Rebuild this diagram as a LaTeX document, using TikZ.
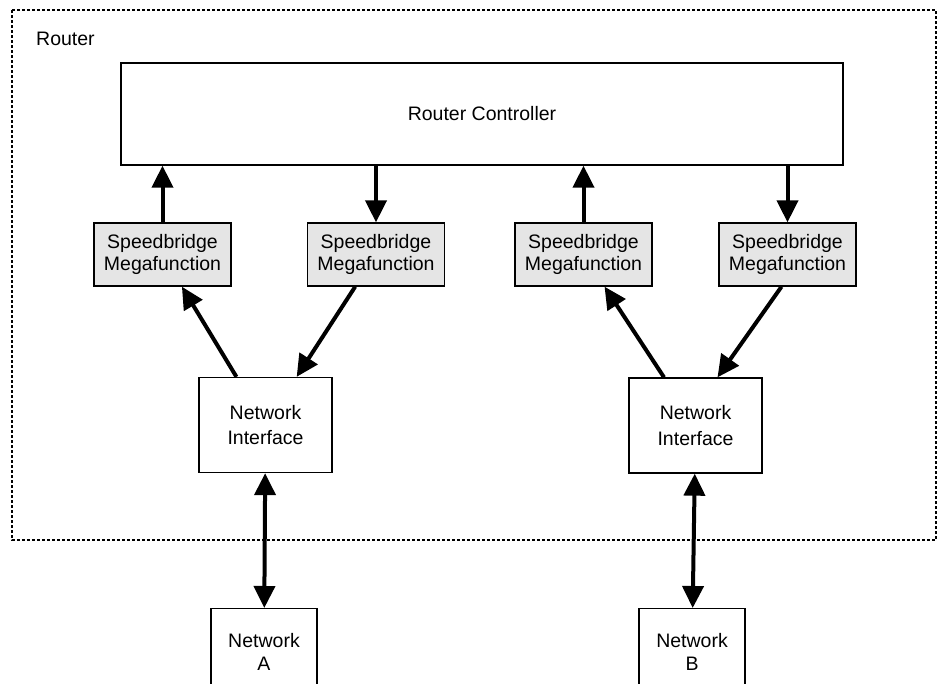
\documentclass[tikz,border=0pt]{standalone}
\usepackage{fontspec}
\setmainfont{Liberation Sans}
\usepackage{tikz}
\usetikzlibrary{arrows.meta}

\begin{document}
\begin{tikzpicture}[x=1pt,y=-1pt,>={Triangle[length=22pt,width=21pt]},
	main node/.style={draw, line width=1.3pt, align=center, inner sep=0pt, font=\fontsize{19.5}{22}\selectfont},
	bridge node/.style={main node, fill=black!10, minimum width=137pt, minimum height=63pt},
	iface node/.style={main node, fill=white, minimum width=133pt, minimum height=95pt, font=\fontsize{19.5}{25.5}\selectfont},
	net node/.style={main node, fill=white, minimum width=106pt, minimum height=86pt, font=\fontsize{19.5}{23}\selectfont}]
	
	\clip (0,0) rectangle (942,683);
	\fill[white] (0,0) rectangle (942,683);
	
	% router boundary
	\draw[line width=1.2pt, dash pattern=on 3pt off 2pt] (12,10) rectangle (936,540);
	\node[anchor=west, inner sep=0pt, font=\fontsize{19.5}{22}\selectfont] (r) at (36,39) {Router};
	
	\node[main node, minimum width=722pt, minimum height=102pt] (1) at (482,114) {Router Controller};
	
	\node[bridge node] (2) at (162.5,254.5) {Speedbridge\\Megafunction};
	\node[bridge node] (3) at (376,254.5) {Speedbridge\\Megafunction};
	\node[bridge node] (4) at (583.5,254.5) {Speedbridge\\Megafunction};
	\node[bridge node] (5) at (787.5,254.5) {Speedbridge\\Megafunction};
	
	\node[iface node] (6) at (265.5,425) {Network\\Interface};
	\node[iface node] (7) at (695.5,425.5) {Network\\Interface};
	
	\node[net node, anchor=north] (8) at (264,608) {Network\\A};
	\node[net node, anchor=north] (9) at (692,608) {Network\\B};
	
	\path[line width=4pt]
	(2.north) edge[->] (2.north |- 1.south)
	(1.south -| 3.north) edge[->] (3.north)
	(4.north) edge[->] (4.north |- 1.south)
	(1.south -| 5.north) edge[->] (5.north)
	
	(6) edge[->] (2)
	(3) edge[->] (6)
	(7) edge[->] (4)
	([xshift=-6pt]5.south) edge[->] ([xshift=22pt]7.north)
	
	(6) edge[<->] (8)
	(7) edge[<->] (9);
	
\end{tikzpicture}
\end{document}
